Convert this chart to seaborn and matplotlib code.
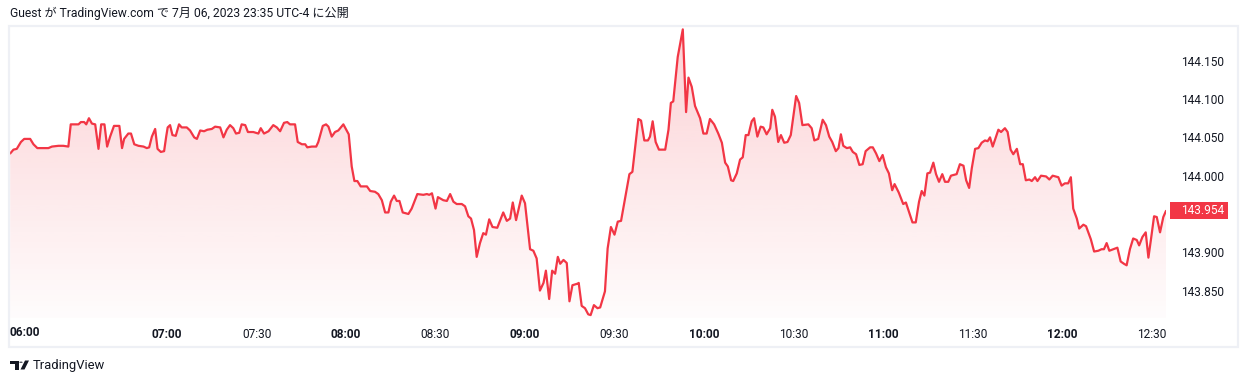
import matplotlib
matplotlib.use("Agg")
import matplotlib.pyplot as plt
import seaborn as sns
import numpy as np
import pandas as pd
from matplotlib.colors import to_rgb
from matplotlib.patches import Rectangle, Polygon, Circle

# ---------------- data ----------------
minutes_after_0600 = [
    7.4, 8.5, 9.6, 11.0, 12.1, 14.1, 15.2, 16.5, 18.5, 20.2,
    21.4, 23.6, 25.2, 26.9, 27.7, 30.3, 31.1, 32.2, 32.9, 33.8,
    34.8, 35.9, 37.0, 37.9, 39.0, 39.9, 40.9, 42.2, 44.0, 44.9,
    45.6, 47.0, 47.9, 49.0, 50.4, 52.1, 53.2, 54.0, 54.9, 56.0,
    56.8, 57.9, 59.0, 59.7, 60.2, 61.0, 61.8, 62.9, 64.0, 64.9,
    66.6, 67.7, 69.1, 70.0, 71.1, 72.4, 73.5, 75.0, 76.1, 77.8,
    78.9, 80.0, 81.1, 82.2, 83.1, 84.2, 85.0, 86.2, 87.1, 88.9,
    90.6, 91.4, 92.5, 94.0, 95.6, 96.8, 97.9, 99.2, 100.3, 101.2,
    102.9, 103.8, 105.2, 106.3, 107.0, 108.5, 110.0, 110.7, 112.2, 113.3,
    114.1, 115.2, 116.3, 117.4, 119.1, 120.9, 121.9, 122.8, 123.8, 124.9,
    127.0, 128.1, 129.7, 130.8, 132.0, 133.1, 134.2, 135.0, 136.1, 137.0,
    137.9, 139.0, 140.9, 142.0, 143.9, 145.9, 147.1, 147.9, 148.8, 150.0,
    150.8, 152.6, 153.8, 154.9, 156.0, 157.1, 158.8, 159.9, 161.0, 161.9,
    162.9, 163.8, 164.9, 166.0, 166.9, 168.0, 169.1, 170.7, 171.6, 172.7,
    173.9, 175.0, 175.9, 177.0, 178.9, 180.0, 181.7, 182.8, 183.9, 185.0,
    186.2, 187.0, 188.1, 189.1, 190.1, 191.0, 191.8, 192.9, 194.0, 194.9,
    195.9, 197.6, 198.0, 199.0, 200.1, 201.2, 202.0, 203.1, 204.3, 205.2,
    206.8, 207.7, 208.8, 210.0, 211.1, 212.2, 213.5, 215.0, 216.0, 218.0,
    218.9, 220.0, 221.2, 221.9, 222.8, 223.8, 224.9, 227.0, 228.1, 228.9,
    229.7, 231.2, 232.9, 234.0, 234.8, 235.9, 237.0, 238.7, 239.8, 240.9,
    242.0, 243.4, 244.8, 246.0, 247.1, 248.0, 249.1, 249.8, 251.0, 252.1,
    253.0, 254.0, 254.9, 256.0, 256.8, 257.9, 259.0, 259.9, 261.0, 262.2,
    262.9, 263.8, 264.9, 265.8, 266.9, 268.0, 269.1, 270.9, 271.9, 273.0,
    275.0, 276.1, 277.0, 278.3, 279.8, 280.9, 282.0, 283.0, 284.2, 285.1,
    285.9, 286.7, 287.9, 289.0, 289.9, 291.0, 292.1, 293.2, 294.2, 295.7,
    296.6, 297.7, 298.8, 299.9, 301.0, 302.0, 303.1, 303.9, 305.3, 306.8,
    307.7, 308.7, 309.9, 311.0, 312.1, 313.0, 313.9, 314.9, 315.8, 316.9,
    317.8, 318.8, 319.9, 320.8, 321.9, 322.8, 324.7, 325.8, 327.0, 327.9,
    328.9, 329.8, 330.9, 332.0, 333.1, 334.2, 335.1, 335.9, 336.8, 338.7,
    339.6, 340.9, 341.8, 342.8, 343.7, 344.9, 346.0, 346.9, 347.9, 349.1,
    349.9, 351.0, 351.8, 353.0, 354.7, 355.8, 356.9, 358.8, 359.9, 361.0,
    362.1, 363.0, 363.8, 365.0, 365.8, 367.2, 368.1, 369.7, 370.8, 372.2,
    373.3, 374.1, 375.0, 375.9, 377.2, 378.6, 379.7, 380.8, 381.7, 382.8,
    383.9, 385.1, 385.9, 387.0, 388.1, 389.0, 389.9, 390.9, 391.8, 392.9,
    394.0, 394.9,
]

prices = [
    144.029, 144.034, 144.035, 144.044, 144.048, 144.048, 144.041, 144.036, 144.036, 144.036,
    144.038, 144.039, 144.039, 144.038, 144.067, 144.067, 144.070, 144.070, 144.067, 144.075,
    144.068, 144.067, 144.035, 144.067, 144.067, 144.038, 144.051, 144.065, 144.065, 144.036,
    144.048, 144.055, 144.055, 144.041, 144.039, 144.038, 144.036, 144.037, 144.051, 144.061,
    144.035, 144.031, 144.032, 144.051, 144.063, 144.066, 144.053, 144.052, 144.067, 144.063,
    144.063, 144.059, 144.050, 144.048, 144.059, 144.058, 144.060, 144.061, 144.064, 144.063,
    144.050, 144.060, 144.066, 144.062, 144.055, 144.056, 144.067, 144.066, 144.057, 144.057,
    144.055, 144.062, 144.055, 144.058, 144.066, 144.063, 144.058, 144.069, 144.070, 144.067,
    144.067, 144.044, 144.041, 144.041, 144.037, 144.038, 144.038, 144.044, 144.065, 144.067,
    144.064, 144.051, 144.057, 144.059, 144.067, 144.054, 144.012, 143.993, 143.993, 143.986,
    143.986, 143.980, 143.979, 143.976, 143.968, 143.952, 143.952, 143.966, 143.974, 143.967,
    143.967, 143.952, 143.950, 143.957, 143.976, 143.975, 143.976, 143.975, 143.977, 143.957,
    143.972, 143.968, 143.967, 143.976, 143.966, 143.963, 143.963, 143.960, 143.947, 143.944,
    143.929, 143.894, 143.912, 143.925, 143.923, 143.943, 143.933, 143.932, 143.941, 143.952,
    143.941, 143.944, 143.965, 143.942, 143.974, 143.964, 143.904, 143.902, 143.892, 143.850,
    143.860, 143.876, 143.839, 143.876, 143.872, 143.894, 143.885, 143.890, 143.886, 143.836,
    143.857, 143.859, 143.860, 143.830, 143.827, 143.819, 143.818, 143.831, 143.827, 143.828,
    143.849, 143.905, 143.933, 143.923, 143.940, 143.941, 143.969, 144.002, 144.005, 144.074,
    144.072, 144.046, 144.046, 144.051, 144.071, 144.044, 144.034, 144.034, 144.060, 144.095,
    144.097, 144.155, 144.191, 144.083, 144.128, 144.116, 144.091, 144.075, 144.055, 144.055,
    144.074, 144.067, 144.055, 144.043, 144.017, 144.012, 143.994, 143.993, 144.003, 144.021,
    144.024, 144.053, 144.053, 144.071, 144.075, 144.051, 144.064, 144.063, 144.054, 144.062,
    144.086, 144.077, 144.044, 144.053, 144.043, 144.044, 144.053, 144.104, 144.095, 144.066,
    144.067, 144.062, 144.046, 144.048, 144.073, 144.066, 144.051, 144.044, 144.032, 144.036,
    144.054, 144.039, 144.036, 144.037, 144.031, 144.028, 144.014, 144.015, 144.032, 144.037,
    144.037, 144.029, 144.019, 144.027, 144.011, 144.003, 143.981, 143.989, 143.978, 143.963,
    143.965, 143.953, 143.939, 143.939, 143.966, 143.980, 143.974, 144.003, 144.004, 144.017,
    144.002, 143.992, 144.002, 143.992, 143.992, 144.000, 144.002, 144.015, 144.013, 143.994,
    143.984, 144.010, 144.035, 144.036, 144.043, 144.046, 144.045, 144.050, 144.038, 144.060,
    144.057, 144.062, 144.057, 144.034, 144.028, 144.035, 144.015, 144.015, 143.994, 143.995,
    143.993, 143.998, 143.993, 144.000, 143.999, 143.995, 144.000, 143.998, 143.987, 143.990,
    143.990, 143.998, 143.957, 143.944, 143.931, 143.936, 143.934, 143.917, 143.901, 143.902,
    143.904, 143.904, 143.912, 143.902, 143.904, 143.906, 143.888, 143.885, 143.883, 143.904,
    143.918, 143.916, 143.909, 143.920, 143.926, 143.893, 143.918, 143.947, 143.946, 143.926,
    143.946, 143.954,
]

time_tick_minutes = [60, 90, 120, 150, 180, 210, 240, 270, 300, 330, 360, 390]
time_tick_labels = ["07:00", "07:30", "08:00", "08:30", "09:00", "09:30",
                    "10:00", "10:30", "11:00", "11:30", "12:00", "12:30"]
first_time_label = "06:00"
price_ticks = [143.85, 143.90, 144.00, 144.05, 144.10, 144.15]
last_price_label = "143.954"
header_text = "Guest が TradingView.com で 7月 06, 2023 23:35 UTC-4 に公開"
brand_text = "TradingView"

# ---------------- style ----------------
RED = "#F23645"
TXT = "#131722"
BORDER = "#EEF0F5"

sns.set_theme(style="white")
plt.rcParams["font.family"] = ["Roboto", "Noto Sans CJK JP", "DejaVu Sans"]

W, H = 1248, 382
fig = plt.figure(figsize=(W / 100, H / 100), dpi=100, facecolor="white")


def fx(px):
    return px / W


def fy(py):
    return 1 - py / H


ax = fig.add_axes([fx(9), fy(318), fx(1166) - fx(9), fy(27) - fy(318)])
ax.set_facecolor("none")

df = pd.DataFrame({"minute": minutes_after_0600, "price": prices})

XMIN, XMAX = 7.0, 394.9
YMIN, YMAX = 143.8142, 144.1941

# gradient fill under the line
grad = np.zeros((256, 1, 4))
grad[..., :3] = to_rgb(RED)
grad[:, 0, 3] = np.linspace(0.015, 0.23, 256)
im = ax.imshow(grad, extent=[XMIN, XMAX, YMIN, YMAX], origin="lower",
               aspect="auto", interpolation="bilinear", zorder=1)
poly = ax.fill_between(df["minute"], df["price"], YMIN,
                       facecolor="none", edgecolor="none")
im.set_clip_path(poly.get_paths()[0], transform=ax.transData)

sns.lineplot(data=df, x="minute", y="price", ax=ax, color=RED,
             linewidth=1.6, estimator=None, sort=False, zorder=3)

ax.set_xlim(XMIN, XMAX)
ax.set_ylim(YMIN, YMAX)
ax.set_xlabel("")
ax.set_ylabel("")
for s in ax.spines.values():
    s.set_visible(False)
ax.grid(False)

ax.set_xticks(time_tick_minutes)
ax.set_xticklabels(time_tick_labels)
ax.tick_params(axis="x", length=0, pad=7.5, labelsize=8.6, labelcolor=TXT)
for lab in ax.get_xticklabels():
    if lab.get_text().endswith(":00"):
        lab.set_fontweight("bold")

ax.yaxis.tick_right()
ax.set_yticks(price_ticks)
ax.set_yticklabels([f"{v:.3f}" for v in price_ticks])
ax.tick_params(axis="y", length=0, pad=10.8, labelsize=8.6, labelcolor=TXT)

# first (clipped) time label at the left edge
fig.text(fx(10), fy(332), first_time_label, ha="left", va="center",
         fontsize=8.6, color=TXT, fontweight="bold")

# pane border
fig.patches.append(Rectangle((fx(9), fy(347)), fx(1238) - fx(9), fy(26) - fy(347),
                             transform=fig.transFigure, fill=False,
                             edgecolor=BORDER, linewidth=1.6))

# current price label
y_disp = ax.transData.transform((XMIN, prices[-1]))[1]
yc = y_disp / H
fig.patches.append(Rectangle((fx(1170), yc - 8.5 / H), fx(1228) - fx(1170), 17 / H,
                             transform=fig.transFigure, facecolor=RED,
                             edgecolor="none"))
fig.text(fx(1181), yc, last_price_label, ha="left", va="center",
         fontsize=8.6, color="white")

# header
fig.text(fx(10), fy(13), header_text, ha="left", va="center", fontsize=8.7,
         color=TXT, family=["Roboto", "Noto Sans CJK JP", "DejaVu Sans"])

# footer logo + brand
def P(x, y):
    return (fx(x), fy(y))

FY = 365  # footer centre line (px from top)
fig.patches.append(Polygon([P(10, FY - 4.5), P(18.5, FY - 4.5), P(18.5, FY + 4.5),
                            P(14.5, FY + 4.5), P(14.5, FY - 1.2), P(10, FY - 1.2)],
                           closed=True, transform=fig.transFigure,
                           facecolor=TXT, edgecolor="none"))
fig.patches.append(Circle(P(21.0, FY - 2.8), 1.7 / W, transform=fig.transFigure,
                          facecolor=TXT, edgecolor="none"))
fig.patches.append(Polygon([P(20.5, FY + 4.5), P(24.5, FY + 4.5), P(29.0, FY - 4.5),
                            P(25.0, FY - 4.5)], closed=True, transform=fig.transFigure,
                           facecolor=TXT, edgecolor="none"))
fig.text(fx(32.5), fy(FY), brand_text, ha="left", va="center", fontsize=9.4,
         color=TXT)

fig.savefig("out.png", dpi=100, facecolor="white")
